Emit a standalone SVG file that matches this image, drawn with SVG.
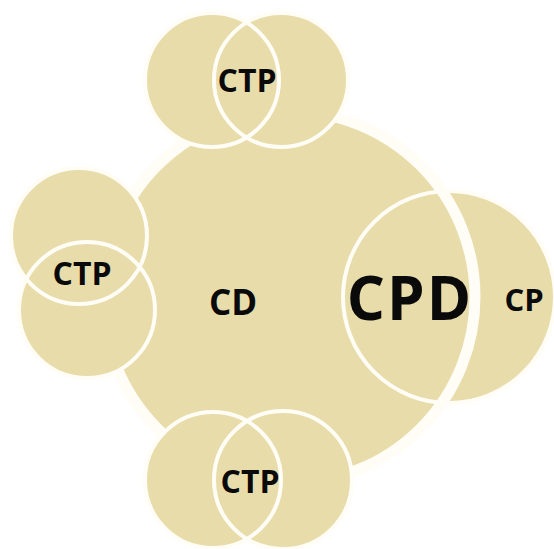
<svg xmlns="http://www.w3.org/2000/svg" width="554" height="549" viewBox="0 0 554 549">
<style>
.f{fill:#E8DCAA;stroke:none}
.o{fill:none;stroke:#FFFDF5;stroke-width:4}
.t{font-family:"Open Sans","Noto Sans","DejaVu Sans",sans-serif;font-weight:bold;fill:#0A0A0A;text-anchor:middle}
</style>
<rect width="554" height="549" fill="#FFFFFF"/>
<g id="cd">
<circle class="f" cx="289" cy="297" r="185"/>
</g>
<g id="cp">
<circle class="f" cx="449" cy="297" r="106"/>
<circle class="o" cx="449" cy="297" r="106" stroke-width="5"/>
<circle cx="289" cy="297" r="186" fill="none" stroke="#FFFDF5" stroke-width="11"/>
<text class="t" x="524" y="311" font-size="31">CP</text>
</g>
<g id="cpd">
<text class="t" x="410" y="320" font-size="60" letter-spacing="2">CPD</text>
</g>
<g id="cd-label">
<text class="t" x="233" y="315" font-size="35">CD</text>
</g>
<g id="ctp-top">
<circle class="f" cx="212" cy="80" r="67"/>
<circle class="f" cx="281" cy="80" r="67"/>
<circle class="o" cx="212" cy="80" r="67"/>
<circle class="o" cx="281" cy="80" r="67"/>
<text class="t" x="247" y="92" font-size="32">CTP</text>
</g>
<g id="ctp-left">
<circle class="f" cx="79" cy="236" r="68"/>
<circle class="f" cx="87" cy="310" r="68"/>
<circle class="o" cx="79" cy="236" r="68"/>
<circle class="o" cx="87" cy="310" r="68"/>
<text class="t" x="82" y="285" font-size="32">CTP</text>
</g>
<g id="ctp-bottom">
<circle class="f" cx="213" cy="480" r="68"/>
<circle class="f" cx="283" cy="480" r="69"/>
<circle class="o" cx="213" cy="480" r="68"/>
<circle class="o" cx="283" cy="480" r="69"/>
<text class="t" x="250" y="493" font-size="32">CTP</text>
</g>
<g id="connectors"/>
</svg>
